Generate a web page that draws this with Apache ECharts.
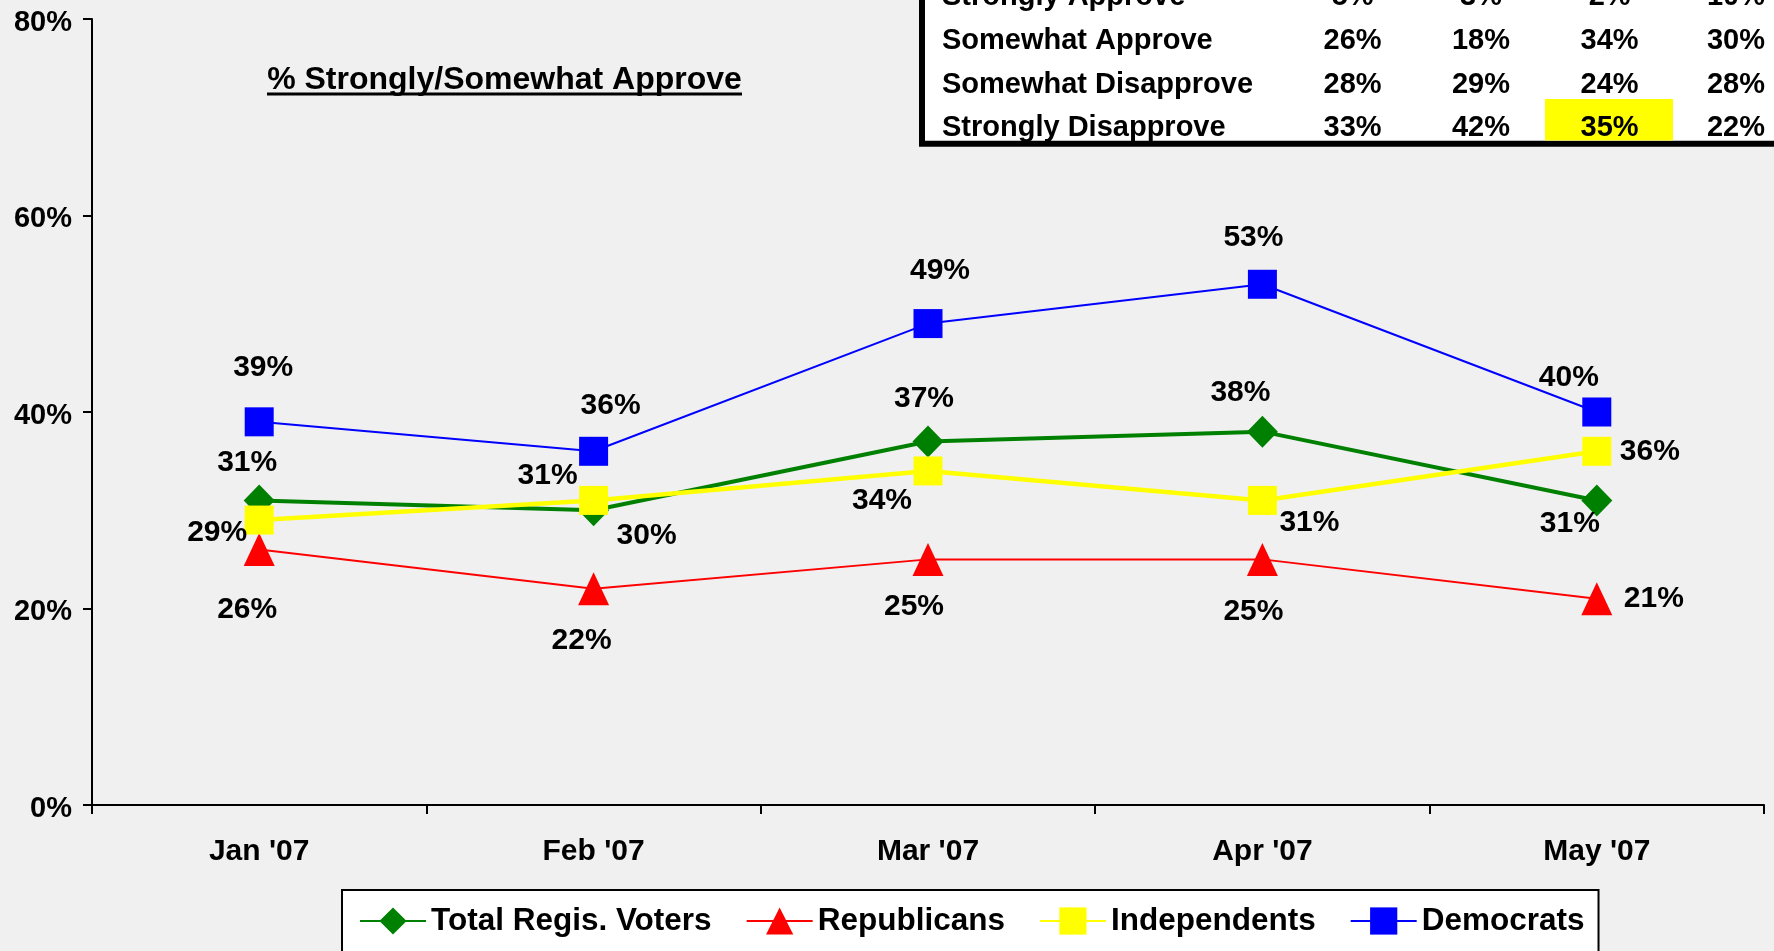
<!DOCTYPE html>
<html>
<head>
<meta charset="utf-8">
<script src="https://cdn.jsdelivr.net/npm/echarts@6/dist/echarts.min.js"></script>
<style>
  html, body { margin: 0; padding: 0; background: #F0F0F0; }
  #chart { width: 1774px; height: 951px; }
</style>
</head>
<body>
<div id="chart"></div>
<script>
// ---- data ----
const categories = ["Jan '07", "Feb '07", "Mar '07", "Apr '07", "May '07"];
const totalVoters = [31, 30, 37, 38, 31];
const republicans = [26, 22, 25, 25, 21];
const independents = [29, 31, 34, 31, 36];
const democrats = [39, 36, 49, 53, 40];
const yTicks = [0, 20, 40, 60, 80];

const titleText = '% Strongly/Somewhat Approve';
const tableRowLabels = ['Strongly Approve', 'Somewhat Approve', 'Somewhat Disapprove', 'Strongly Disapprove'];
const tableTotal = [5, 26, 28, 33];
const tableRep = [3, 18, 29, 42];
const tableInd = [2, 34, 24, 35];
const tableDem = [10, 30, 28, 22];

// ---- label placement (pixel offsets from marker centre) ----
const offTotal = [[-12, -38], [53, 25], [-4, -43], [-22, -39], [-27, 23]];
const offRep = [[-12, 60], [-12, 52], [-14, 47], [-9, 52], [57, 0]];
const offInd = [[-42, 13], [-46, -25], [-46, 30], [47, 22], [53, 0]];
const offDem = [[4, -54], [17, -46], [12, -53], [-9, -47], [-28, -34]];

const FONT = "'Liberation Sans', Arial, Helvetica, sans-serif";

function withOffsets(vals, offs) {
  return vals.map((v, i) => ({ value: v, label: { offset: offs[i] } }));
}

function makeSeries(name, vals, offs, color, symbol, size, width) {
  return {
    name: name,
    type: 'line',
    data: withOffsets(vals, offs),
    symbol: symbol,
    symbolSize: size,
    showAllSymbol: true,
    lineStyle: { color: color, width: width },
    itemStyle: { color: color },
    label: {
      show: true,
      position: 'inside',
      formatter: '{c}%',
      color: '#000',
      fontSize: 30,
      fontWeight: 'bold',
      fontFamily: FONT
    },
    emphasis: { disabled: true },
    animation: false
  };
}

// ---- table graphic ----
const tableLeft = 922, tableBottom = 143.7;
const rowY = [-3, 41, 84.5, 128];
const colX = [1352.6, 1481, 1609.6, 1736];
const tableCols = [tableTotal, tableRep, tableInd, tableDem];
const graphics = [];
graphics.push({
  type: 'rect', z: 10,
  shape: { x: tableLeft, y: -60, width: 1000, height: tableBottom + 60 },
  style: { fill: '#FFFFFF', stroke: '#000', lineWidth: 6 }
});
graphics.push({
  type: 'rect', z: 11,
  shape: { x: 1545, y: 99, width: 128, height: 41.5 },
  style: { fill: '#FFFF00' }
});
tableRowLabels.forEach((lab, r) => {
  graphics.push({
    type: 'text', z: 12, x: 942, y: rowY[r],
    style: { text: lab, fill: '#000', font: 'bold 29px ' + FONT, align: 'left', verticalAlign: 'middle' }
  });
  tableCols.forEach((col, c) => {
    graphics.push({
      type: 'text', z: 12, x: colX[c], y: rowY[r],
      style: { text: col[r] + '%', fill: '#000', font: 'bold 29px ' + FONT, align: 'center', verticalAlign: 'middle' }
    });
  });
});
// title with underline
graphics.push({
  type: 'text', z: 12, x: 504.5, y: 80.5,
  style: { text: titleText, fill: '#000', font: 'bold 32px ' + FONT, align: 'center', verticalAlign: 'middle' }
});
graphics.push({
  type: 'line', z: 12,
  shape: { x1: 267, y1: 94, x2: 742, y2: 94 },
  style: { stroke: '#000', lineWidth: 3 }
});

const chart = echarts.init(document.getElementById('chart'), null, { renderer: 'canvas' });
chart.setOption({
  backgroundColor: '#F0F0F0',
  animation: false,
  grid: { left: 92, right: 10, top: 19, bottom: 146, containLabel: false },
  xAxis: {
    type: 'category',
    data: categories,
    boundaryGap: true,
    axisLine: { lineStyle: { color: '#000', width: 2 } },
    axisTick: { show: true, length: 9, lineStyle: { color: '#000', width: 2 } },
    axisLabel: { color: '#000', fontSize: 30, fontWeight: 'bold', fontFamily: FONT, margin: 32 },
    splitLine: { show: false }
  },
  yAxis: {
    type: 'value',
    min: yTicks[0],
    max: yTicks[yTicks.length - 1],
    interval: yTicks[1] - yTicks[0],
    axisLine: { show: true, lineStyle: { color: '#000', width: 2 } },
    axisTick: { show: true, length: 9, lineStyle: { color: '#000', width: 2 } },
    axisLabel: {
      color: '#000', fontSize: 29, fontWeight: 'bold', fontFamily: FONT, margin: 20,
      formatter: '{t|{value}%}',
      rich: { t: { color: '#000', fontSize: 29, fontWeight: 'bold', fontFamily: FONT, padding: [7, 0, 0, 0] } }
    },
    splitLine: { show: false }
  },
  legend: {
    left: 342,
    top: 890,
    orient: 'horizontal',
    backgroundColor: '#FFFFFF',
    borderColor: '#000',
    borderWidth: 2,
    padding: [15, 14, 40, 17],
    itemWidth: 66,
    itemHeight: 34,
    itemGap: 34,
    textStyle: { color: '#000', fontSize: 31.5, fontWeight: 'bold', fontFamily: FONT },
    data: ['Total Regis. Voters', 'Republicans', 'Independents', 'Democrats']
  },
  graphic: graphics,
  series: [
    makeSeries('Total Regis. Voters', totalVoters, offTotal, '#008000', 'diamond', [31, 32], 4),
    makeSeries('Republicans', republicans, offRep, '#FF0000', 'triangle', [31, 33], 2),
    makeSeries('Independents', independents, offInd, '#FFFF00', 'rect', [29, 29], 4.5),
    makeSeries('Democrats', democrats, offDem, '#0000FF', 'rect', [29, 29], 2)
  ]
});
</script>
</body>
</html>
